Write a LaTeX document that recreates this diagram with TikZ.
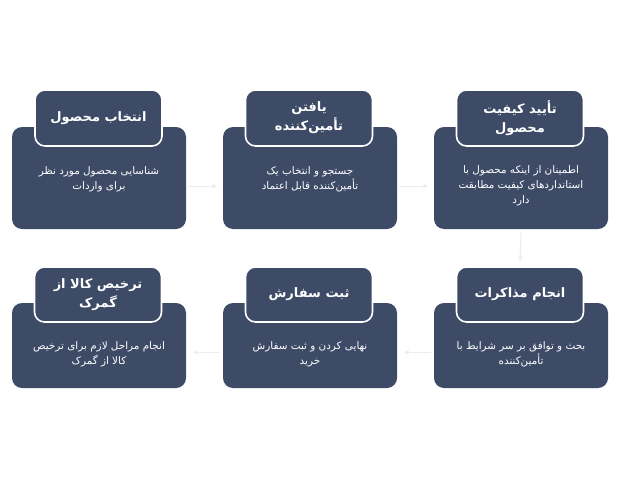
\documentclass[tikz,border=0pt]{standalone}
\usepackage{fontspec}
\TeXXeTstate=1
\newfontfamily\arabicfont[Script=Arabic]{DejaVu Sans}
\usetikzlibrary{arrows.meta}
\definecolor{boxblue}{RGB}{61,75,103}
\definecolor{conngray}{RGB}{236,236,236}
\tikzset{
  bigbox/.style={rectangle, rounded corners=10pt, fill=boxblue, draw=none, minimum width=174pt},
  titlebox/.style={rectangle, rounded corners=10pt, fill=boxblue, draw=white, line width=1.6pt, minimum width=127pt, text=white, align=center, font=\arabicfont\fontsize{13}{19}\selectfont\bfseries},
  bodytext/.style={text=white, align=center, font=\arabicfont\fontsize{10.4}{15}\selectfont},
  conn/.style={draw=conngray, line width=1pt, -{Stealth[length=5pt,width=5pt]}}
}
\begin{document}
\begin{tikzpicture}[x=1pt,y=-1pt]
\useasboundingbox[fill=white] (0,0) rectangle (620,476);
% top row
\node[bigbox, minimum height=102pt] (b1) at (99,178) {};
\node[bigbox, minimum height=102pt] (b2) at (310,178) {};
\node[bigbox, minimum height=102pt] (b3) at (521,178) {};
% bottom row
\node[bigbox, minimum height=85pt] (b6) at (99,345.5) {};
\node[bigbox, minimum height=85pt] (b5) at (310,345.5) {};
\node[bigbox, minimum height=85pt] (b4) at (521,345.5) {};
% titles
\node[titlebox, minimum height=56pt] (t1) at (98.5,118) {\beginR انتخاب محصول\endR};
\node[titlebox, minimum height=56pt] (t2) at (309,118) {\beginR یافتن\endR\\\beginR تأمین‌کننده\endR};
\node[titlebox, minimum height=56pt] (t3) at (520,118) {\beginR تأیید کیفیت\endR\\\beginR محصول\endR};
\node[titlebox, minimum height=55pt] (t6) at (98,294.5) {\beginR ترخیص کالا از\endR\\\beginR گمرک\endR};
\node[titlebox, minimum height=55pt] (t5) at (309,294.5) {\beginR ثبت سفارش\endR};
\node[titlebox, minimum height=55pt] (t4) at (520,294.5) {\beginR انجام مذاکرات\endR};
% body texts
\node[bodytext] (x1) at (99,179) {\beginR شناسایی محصول مورد نظر\endR\\\beginR برای واردات\endR};
\node[bodytext] (x2) at (310,179) {\beginR جستجو و انتخاب یک\endR\\\beginR تأمین‌کننده قابل اعتماد\endR};
\node[bodytext] (x3) at (521,186) {\beginR اطمینان از اینکه محصول با\endR\\\beginR استانداردهای کیفیت مطابقت\endR\\\beginR دارد\endR};
\node[bodytext] (x4) at (521,354) {\beginR بحث و توافق بر سر شرایط با\endR\\\beginR تأمین‌کننده\endR};
\node[bodytext] (x5) at (310,354) {\beginR نهایی کردن و ثبت سفارش\endR\\\beginR خرید\endR};
\node[bodytext] (x6) at (99,354) {\beginR انجام مراحل لازم برای ترخیص\endR\\\beginR کالا از گمرک\endR};
% connectors
\draw[conn, shorten <=2pt, shorten >=6pt] ([yshift=-8pt]b1.east) -- ([yshift=-8pt]b2.west);
\draw[conn, shorten <=2pt, shorten >=6pt] ([yshift=-8pt]b2.east) -- ([yshift=-8pt]b3.west);
\draw[conn, shorten <=3pt, shorten >=5pt] (b3.south) -- (t4.north);
\draw[conn, shorten <=3pt, shorten >=7pt] ([yshift=-7pt]b4.west) -- ([yshift=-7pt]b5.east);
\draw[conn, shorten <=3pt, shorten >=7pt] ([yshift=-7pt]b5.west) -- ([yshift=-7pt]b6.east);
\end{tikzpicture}
\end{document}
